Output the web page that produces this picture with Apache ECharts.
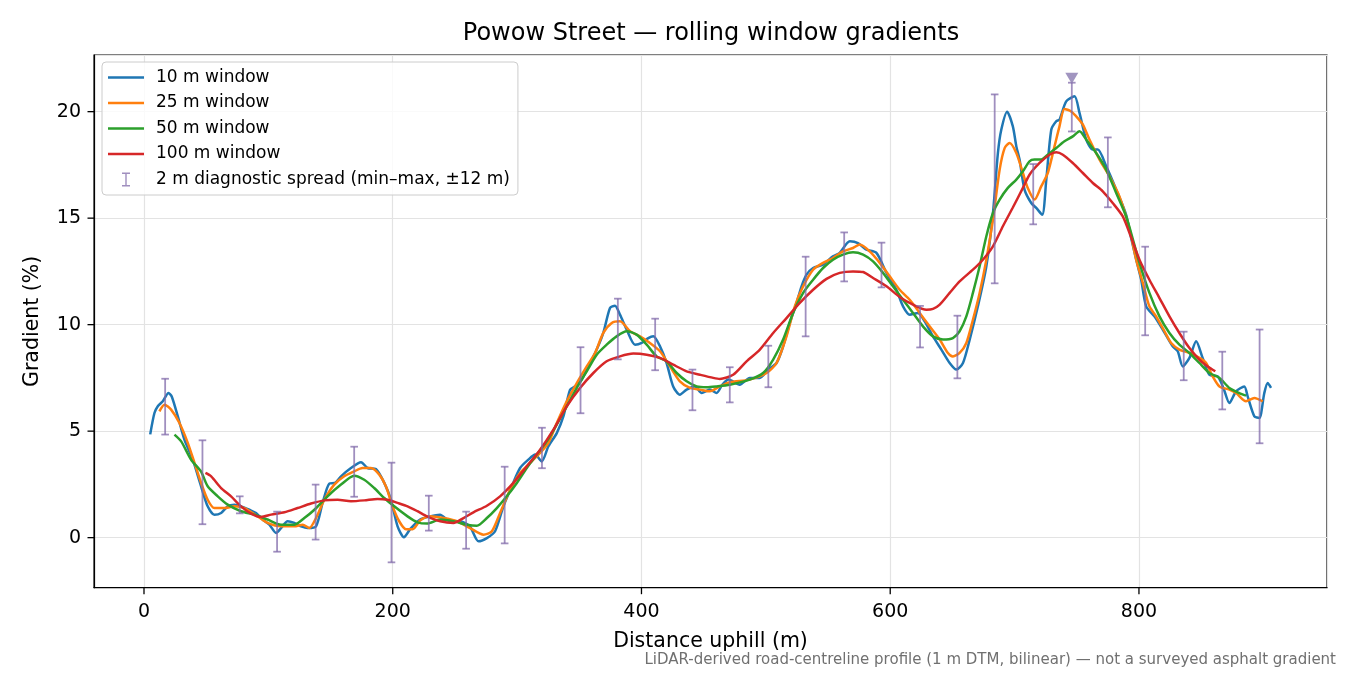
<!DOCTYPE html>
<html>
<head>
<meta charset="utf-8">
<title>Powow Street gradients</title>
<style>
  html, body { margin: 0; padding: 0; background: #fff; }
  #main { width: 1350px; height: 675px; }
</style>
</head>
<body>
<div id="main"></div>
<script src="https://cdn.jsdelivr.net/npm/echarts@6.0.0/dist/echarts.min.js"></script>
<script type="text/javascript">
// values: [distance m, gradient %]
var blue10 = [
  [5, 4.85], [8.4, 5.85], [11.1, 6.17], [15.1, 6.4], [19.7, 6.79], [22.3, 6.63], [27.2, 5.69], [32.5, 4.6],
  [39.2, 3.66], [45.9, 2.41], [51.2, 1.47], [56.6, 1.08], [62, 1.16], [67.3, 1.47], [72.7, 1.55], [78, 1.47],
  [84.7, 1.31], [90.1, 1.16], [95.4, 0.85], [100.8, 0.61], [106.2, 0.22], [110.2, 0.45], [115.5, 0.77],
  [120.9, 0.69], [126.3, 0.53], [131.6, 0.45], [138.3, 0.53], [143.6, 1.63], [149, 2.54], [153.6, 2.57],
  [158.4, 2.88], [166.4, 3.27], [174.5, 3.54], [179.8, 3.27], [186.5, 3.22], [193.2, 2.57], [198.5, 1.78],
  [203.9, 0.53], [209, 0.02], [214.3, 0.42], [222, 0.85], [230, 1.0], [238, 1.08], [246, 0.77], [254, 0.77],
  [262, 0.53], [269, -0.17], [275.7, -0.02], [282.3, 0.3], [289, 1.47], [295.7, 2.41], [302.4, 3.27],
  [309, 3.66], [314.5, 3.9], [319.8, 3.58], [325.2, 4.29], [331.9, 4.91], [337.2, 5.69], [342.6, 6.95],
  [346.6, 7.1], [352, 7.42], [357.3, 8.04], [364, 8.83], [369.3, 9.61], [374.7, 10.78], [378.7, 10.89],
  [382.7, 10.47], [388.1, 9.77], [394.8, 9.06], [400.2, 9.14], [405.5, 9.37], [409.5, 9.45], [414.9, 8.98],
  [420.2, 8.2], [425.5, 7.1], [430.9, 6.71], [436.3, 6.95], [443, 7.1], [448.4, 6.79], [455, 6.95],
  [460.4, 6.79], [465, 7.18], [470, 7.42], [479, 7.18], [487, 7.5], [495, 7.5], [501.9, 7.89], [508.6, 8.2],
  [513.9, 8.98], [519.3, 10.08], [524.7, 11.02], [528.7, 11.8], [532.7, 12.35], [538, 12.66], [546, 12.82],
  [554, 13.21], [559.4, 13.37], [567.5, 13.91], [574.1, 13.83], [580.9, 13.52], [588.9, 13.37], [597, 12.43],
  [605, 11.64], [610.3, 10.86], [615.7, 10.47], [622.3, 10.55], [627.7, 10.16], [634.4, 9.45], [641.1, 8.83],
  [647.8, 8.2], [653.2, 7.89], [658.5, 8.2], [663.9, 9.3], [670.5, 10.86], [677.3, 12.74], [682.6, 15.24],
  [686.6, 18.06], [689.3, 19.15], [694, 20.0], [698.6, 19.31], [701.4, 18.37], [704, 17.75], [708, 16.34],
  [713.4, 15.71], [717.4, 15.48], [722.2, 15.16], [725.5, 16.81], [729.5, 19.15], [733.5, 19.55],
  [736.1, 19.62], [741.5, 20.48], [748.2, 20.72], [752.2, 19.94], [757.6, 18.69], [762.9, 18.22],
  [766.9, 18.22], [773.7, 17.43], [781.7, 16.34], [789.7, 15.16], [793.7, 14.07], [797.8, 13.05],
  [801.8, 12.11], [805.8, 10.86], [812.4, 10.39], [819.1, 9.77], [827.1, 8.98], [831.2, 8.75], [835.2, 8.04],
  [840.6, 8.44], [846, 9.22], [851.2, 8.44], [856.6, 7.65], [863.3, 7.57], [867.9, 7.03], [872.7, 6.32],
  [878.1, 6.87], [884.7, 7.1], [887.4, 6.63], [892.8, 5.69], [896.8, 5.62], [900.8, 6.79], [903.5, 7.26],
  [906.2, 7.03]
];
var orange25 = [
  [12.4, 5.93], [16.5, 6.24], [21.8, 6.01], [28.5, 5.38], [35.2, 4.45], [40.6, 3.51], [45.9, 2.57],
  [51.2, 1.78], [56.6, 1.39], [64.7, 1.39], [72.7, 1.47], [80.7, 1.39], [91.4, 1.0], [99.4, 0.69],
  [110.2, 0.53], [120.9, 0.53], [127.6, 0.61], [132.9, 0.45], [138.3, 0.92], [145, 1.78], [153, 2.49],
  [161, 2.88], [169, 3.11], [175.7, 3.27], [182.5, 3.27], [189.2, 2.96], [194.5, 2.41], [199.9, 1.47],
  [205.2, 0.77], [210.6, 0.4], [216, 0.4], [222, 0.8], [230, 1.0], [240.8, 0.92], [251.6, 0.77],
  [262.2, 0.45], [273, 0.14], [279.7, 0.3], [286.3, 1.16], [294.4, 2.25], [302.4, 3.04], [310.4, 3.51],
  [318.5, 3.98], [325.2, 4.45], [331.9, 5.38], [339.9, 6.4], [348, 7.26], [356, 8.04], [362.7, 8.67],
  [369.3, 9.61], [376.1, 10.08], [382.7, 10.16], [390.8, 9.69], [398.8, 9.45], [406.8, 9.14], [414.9, 8.75],
  [422.9, 8.04], [430.9, 7.34], [439, 7.03], [447, 6.95], [455, 6.87], [463, 7.1], [471, 7.3], [487, 7.42],
  [500.6, 7.73], [508.6, 8.2], [516.6, 9.45], [523.3, 10.86], [530, 11.8], [538, 12.58], [546, 12.9],
  [554, 13.13], [562, 13.44], [570.1, 13.6], [575.5, 13.76], [583.5, 13.44], [591.6, 12.9], [599.6, 12.27],
  [607.6, 11.64], [615.7, 11.17], [623.7, 10.55], [631.7, 9.92], [639.8, 9.3], [646.4, 8.67], [650.4, 8.51],
  [655.8, 8.67], [661.2, 9.14], [666.5, 10.23], [671.9, 11.49], [677.3, 13.05], [682.6, 14.93], [688, 17.28],
  [692, 18.29], [696, 18.53], [701.4, 18.06], [706.7, 17.12], [710.7, 16.4], [716.1, 15.87], [721.4, 16.49],
  [726.7, 17.12], [732.1, 18.37], [736.1, 19.31], [740.1, 20.13], [745.5, 20.01], [750.8, 19.7],
  [754.9, 19.39], [760.2, 18.69], [768.3, 17.75], [776.3, 16.96], [784.3, 16.02], [792.4, 14.5],
  [797.8, 13.05], [803.1, 11.96], [808.4, 10.86], [813.8, 10.39], [820.5, 9.69], [825.9, 9.14], [832.5, 8.83],
  [840.6, 8.67], [848.6, 8.44], [854, 8.2], [859.3, 7.57], [864.7, 7.1], [872.7, 6.95], [878.1, 6.79],
  [886.1, 6.4], [892.8, 6.56], [899.5, 6.4]
];
var green50 = [
  [24.5, 4.84], [29.9, 4.52], [37.9, 3.66], [45.9, 3.1], [51.2, 2.41], [59.3, 1.94], [67.3, 1.55], [78, 1.24],
  [88.8, 1.08], [99.4, 0.85], [110.2, 0.61], [120.9, 0.61], [128.9, 0.92], [137, 1.31], [147.6, 1.94],
  [158.4, 2.49], [169, 2.91], [177.1, 2.72], [185.1, 2.33], [193.2, 1.86], [201.2, 1.47], [211.9, 1.0],
  [219.9, 0.72], [227.5, 0.66], [238.2, 0.85], [248.8, 0.77], [259.6, 0.61], [267.6, 0.56], [275.7, 0.92],
  [283.7, 1.39], [291.7, 1.94], [299.8, 2.57], [307.8, 3.27], [315.8, 3.9], [323.9, 4.52], [331.9, 5.31],
  [339.9, 6.16], [348, 7.03], [356, 7.81], [364, 8.59], [372, 9.06], [380, 9.45], [388.1, 9.69], [396.1, 9.53],
  [404.2, 9.06], [412.2, 8.51], [420.2, 8.28], [428.3, 7.73], [436.3, 7.34], [444.4, 7.1], [452.4, 7.06],
  [460.4, 7.1], [471, 7.18], [487, 7.42], [497.8, 7.73], [505.9, 8.36], [513.9, 9.3], [521.9, 10.55],
  [530, 11.49], [538, 12.11], [546, 12.66], [554, 13.05], [562, 13.29], [570.1, 13.4], [578.2, 13.29],
  [586.2, 12.97], [594.2, 12.43], [602.2, 11.8], [610.3, 11.17], [618.3, 10.55], [626.3, 9.92], [634.4, 9.45],
  [642.4, 9.3], [650.4, 9.37], [655.8, 9.69], [661.2, 10.39], [666.5, 11.49], [671.9, 12.74], [677.3, 14.15],
  [682.6, 15.24], [688, 15.87], [694.6, 16.42], [701.4, 16.81], [706.7, 17.2], [712, 17.67], [716, 17.75],
  [721.4, 17.75], [726.7, 17.98], [733.5, 18.29], [740.1, 18.61], [746.8, 18.84], [752.2, 19.08],
  [757.6, 18.69], [765.6, 18.06], [773.7, 17.28], [781.7, 16.18], [789.7, 15.08], [793.7, 14.3],
  [800.4, 12.9], [808.4, 11.49], [816.5, 10.39], [824.5, 9.61], [832.5, 9.06], [840.6, 8.67], [848.6, 8.2],
  [856.6, 7.73], [864.7, 7.5], [872.7, 7.03], [880.7, 6.79], [886.1, 6.67]
];
var red100 = [
  [49.4, 3.04], [54, 2.88], [62, 2.33], [70, 1.94], [78, 1.47], [86.1, 1.13], [94.1, 0.97], [102.2, 1.08],
  [112.9, 1.19], [123.5, 1.39], [134.3, 1.6], [145, 1.75], [155.7, 1.78], [166.4, 1.71], [177.1, 1.75],
  [187.8, 1.82], [195.8, 1.78], [203.9, 1.63], [211.9, 1.47], [219.9, 1.24], [227.5, 1.0], [238.2, 0.77],
  [248.8, 0.69], [256.9, 0.92], [264.9, 1.19], [275.7, 1.5], [286.3, 1.94], [297, 2.57], [307.8, 3.35],
  [318.5, 4.13], [329.2, 5.07], [339.9, 6.16], [350.6, 7.03], [361.3, 7.73], [372, 8.28], [382.7, 8.51],
  [393.4, 8.64], [404.2, 8.59], [414.9, 8.44], [425.5, 8.12], [436.3, 7.81], [447, 7.65], [457.7, 7.5],
  [463, 7.45], [473.7, 7.65], [484.5, 8.28], [495.2, 8.83], [505.9, 9.61], [516.6, 10.31], [527.3, 11.02],
  [538, 11.64], [548.8, 12.15], [559.4, 12.43], [570.1, 12.5], [578.2, 12.47], [586.2, 12.19], [597, 11.8],
  [607.6, 11.3], [618.3, 10.94], [629.1, 10.7], [634.4, 10.74], [639.8, 10.94], [647.8, 11.49],
  [655.8, 12.03], [666.5, 12.58], [674.5, 13.05], [682.6, 13.68], [690.6, 14.62], [698.6, 15.5],
  [706.7, 16.42], [712, 17.04], [720.1, 17.59], [728.1, 17.98], [733.5, 18.09], [738.8, 17.98],
  [746.8, 17.59], [754.9, 17.12], [762.9, 16.65], [770.9, 16.26], [778.9, 15.71], [787, 15.08],
  [793.7, 14.1], [800.4, 13.05], [808.4, 12.11], [816.5, 11.25], [824.5, 10.39], [832.5, 9.61],
  [840.6, 8.9], [848.6, 8.36], [855.3, 8.04], [861.4, 7.81]
];

// 2 m diagnostic spread (min-max)
var errX    = [17, 47, 77, 107, 138, 169, 199, 229, 259, 290, 320, 351, 381, 411, 441,
               471, 502, 532, 563, 593, 624, 654, 684, 715, 746, 775, 805, 836, 867, 897];
var errLow  = [4.84, 0.63, 1.14, -0.66, -0.09, 1.92, -1.16, 0.33, -0.52, -0.27, 3.26, 5.84, 8.37, 7.86, 5.98,
               6.35, 7.06, 9.45, 12.03, 11.75, 8.93, 7.48, 11.94, 14.71, 19.07, 15.51, 9.5, 7.39, 6.02, 4.43];
var errHigh = [7.46, 4.57, 1.94, 1.22, 2.49, 4.27, 3.52, 1.97, 1.22, 3.33, 5.16, 8.94, 11.22, 10.28, 7.89,
               8.0, 9.01, 13.19, 14.33, 13.85, 10.88, 10.42, 20.81, 17.54, 21.36, 18.79, 13.66, 9.67, 8.73, 9.77];
var peakMarker = [[746, 21.57]];

var xTicks = [0, 200, 400, 600, 800];
var yTicks = [0, 5, 10, 15, 20];
var xMin = -40.2, xMax = 951.2;
var yMin = -2.35, yMax = 22.66;

var colors = ['#1f77b4', '#ff7f0e', '#2ca02c', '#d62728'];
var errColor = 'rgba(128, 106, 170, 0.75)';
var markColor = '#8a7bb0';
var font = 'DejaVu Sans';
var TICK_LEN = 6.5;

var lineIcon = 'path://M0,0 L0.01,0 Z M43,14 L42.99,14 Z M0,5.8 L36,5.8 L36,8.2 L0,8.2 Z';
var errIcon = 'path://M0,0 L0.01,0 Z M43,14 L42.99,14 Z M14,0 L22,0 L22,1.4 L18.7,1.4 L18.7,12.6 L22,12.6 L22,14 L14,14 L14,12.6 L17.3,12.6 L17.3,1.4 L14,1.4 Z';

var errData = errX.map(function (x, i) { return [x, errLow[i], errHigh[i]]; });

function renderErrorBar(params, api) {
    var x = api.value(0);
    var pLo = api.coord([x, api.value(1)]);
    var pHi = api.coord([x, api.value(2)]);
    var cap = 3.8;
    var st = { stroke: errColor, lineWidth: 1.8 };
    return {
        type: 'group',
        children: [
            { type: 'line', shape: { x1: pLo[0], y1: pLo[1], x2: pHi[0], y2: pHi[1] }, style: st },
            { type: 'line', shape: { x1: pLo[0] - cap, y1: pLo[1], x2: pLo[0] + cap, y2: pLo[1] }, style: st },
            { type: 'line', shape: { x1: pHi[0] - cap, y1: pHi[1], x2: pHi[0] + cap, y2: pHi[1] }, style: st }
        ]
    };
}

function lineSeries(name, data, color) {
    return {
        name: name,
        type: 'line',
        data: data,
        showSymbol: false,
        symbol: 'none',
        smooth: 0.25,
        color: color,
        lineStyle: { color: color, width: 2.5 },
        itemStyle: { color: color },
        emphasis: { disabled: true },
        animation: false
    };
}

var textGraphics = [
    { id: 'title', type: 'text', x: 711, y: 34,
      style: { text: 'Powow Street — rolling window gradients',
               textAlign: 'center', textVerticalAlign: 'middle',
               font: '24px "DejaVu Sans"', fill: '#000' } },
    { id: 'note', type: 'text', x: 1336, y: 660,
      style: { text: 'LiDAR-derived road-centreline profile (1 m DTM, bilinear) — not a surveyed asphalt gradient',
               textAlign: 'right', textVerticalAlign: 'middle',
               font: '15px "DejaVu Sans"', fill: '#707070' } }
];

var myChart = echarts.init(document.getElementById('main'), null, { renderer: 'canvas' });

var option = {
    backgroundColor: '#ffffff',
    animation: false,
    textStyle: { fontFamily: font },
    grid: {
        left: 94, right: 23, top: 55, bottom: 87.3,
        show: true, borderColor: '#000', borderWidth: 1.2, backgroundColor: 'transparent'
    },
    legend: {
        orient: 'vertical',
        left: 102, top: 62,
        padding: [7, 8, 7, 6],
        itemWidth: 43, itemHeight: 14, itemGap: 8.5,
        backgroundColor: 'rgba(255,255,255,0.8)',
        borderColor: '#cccccc', borderWidth: 1, borderRadius: 4,
        selectedMode: false,
        itemStyle: { borderWidth: 0 },
        textStyle: { fontFamily: font, fontSize: 17, color: '#000', lineHeight: 17 },
        data: [
            { name: '10 m window', icon: lineIcon },
            { name: '25 m window', icon: lineIcon },
            { name: '50 m window', icon: lineIcon },
            { name: '100 m window', icon: lineIcon },
            { name: '2 m diagnostic spread (min–max, ±12 m)', icon: errIcon }
        ]
    },
    xAxis: {
        type: 'value',
        min: xMin, max: xMax,
        splitNumber: 5,
        name: 'Distance uphill (m)',
        nameLocation: 'middle',
        nameGap: 43,
        nameTextStyle: { fontFamily: font, fontSize: 20.5, color: '#000' },
        axisLine: { show: true, onZero: false, lineStyle: { color: '#000', width: 1.2 } },
        axisTick: { show: false },
        axisLabel: { customValues: xTicks, margin: 15, fontFamily: font, fontSize: 19, color: '#000' },
        splitLine: { show: true, lineStyle: { color: '#e3e3e3', width: 1.2 } }
    },
    yAxis: {
        type: 'value',
        min: yMin, max: yMax,
        splitNumber: 5,
        name: 'Gradient (%)',
        nameLocation: 'middle',
        nameRotate: 90,
        nameGap: 51,
        nameTextStyle: { fontFamily: font, fontSize: 20.5, color: '#000' },
        axisLine: { show: true, onZero: false, lineStyle: { color: '#000', width: 1.2 } },
        axisTick: { show: false },
        axisLabel: { customValues: yTicks, margin: 13, fontFamily: font, fontSize: 19, color: '#000' },
        splitLine: { show: true, lineStyle: { color: '#e3e3e3', width: 1.2 } }
    },
    graphic: textGraphics,
    series: [
        lineSeries('10 m window', blue10, colors[0]),
        lineSeries('25 m window', orange25, colors[1]),
        lineSeries('50 m window', green50, colors[2]),
        lineSeries('100 m window', red100, colors[3]),
        {
            name: '2 m diagnostic spread (min–max, ±12 m)',
            type: 'custom',
            renderItem: renderErrorBar,
            data: errData,
            encode: { x: 0, y: [1, 2] },
            itemStyle: { color: errColor },
            z: 5,
            animation: false
        },
        {
            name: 'peak',
            type: 'scatter',
            data: peakMarker,
            symbol: 'triangle',
            symbolRotate: 180,
            symbolSize: [13, 11],
            itemStyle: { color: markColor },
            z: 6,
            animation: false
        }
    ]
};
myChart.setOption(option);

// outward tick marks (matplotlib style): positions come from the chart's own scales
try {
    var tickGraphics = [];
    xTicks.forEach(function (v, i) {
        var p = myChart.convertToPixel({ gridIndex: 0 }, [v, yMin]);
        tickGraphics.push({ id: 'xt' + i, type: 'line', z: 100,
            shape: { x1: p[0], y1: p[1], x2: p[0], y2: p[1] + TICK_LEN },
            style: { stroke: '#000', lineWidth: 1.3 } });
    });
    yTicks.forEach(function (v, i) {
        var p = myChart.convertToPixel({ gridIndex: 0 }, [xMin, v]);
        tickGraphics.push({ id: 'yt' + i, type: 'line', z: 100,
            shape: { x1: p[0] - TICK_LEN, y1: p[1], x2: p[0], y2: p[1] },
            style: { stroke: '#000', lineWidth: 1.3 } });
    });
    myChart.setOption({ graphic: textGraphics.concat(tickGraphics) });
} catch (e) {
    console.log(e);
}
</script>
</body>
</html>
